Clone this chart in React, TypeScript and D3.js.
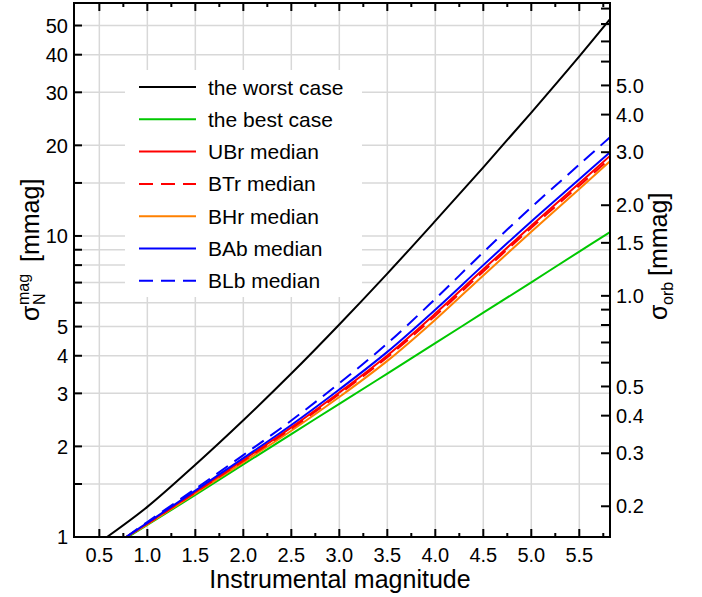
import React from "react";
import * as d3 from "d3";

// ---- data ----
const worstMag = [0.58, 1.0, 1.5, 2.0, 2.5, 3.0, 3.5, 4.0, 4.5, 5.0, 5.5, 5.82];
const worstCase = [1.0, 1.259, 1.738, 2.443, 3.491, 5.082, 7.499, 11.22, 16.9, 25.7, 39.5, 52.5];

const bestMag = [0.8, 1.0, 1.5, 2.0, 2.5, 3.0, 3.5, 4.0, 4.5, 5.0, 5.5, 5.82];
const bestCase = [1.0, 1.096, 1.38, 1.742, 2.198, 2.767, 3.491, 4.406, 5.559, 7.015, 8.872, 10.3];

const medianMag = [0.78, 1.0, 1.5, 2.0, 2.5, 3.0, 3.5, 4.0, 4.5, 5.0, 5.5, 5.82];
const ubrMedian = [1.0, 1.109, 1.413, 1.803, 2.312, 3.02, 4.009, 5.521, 7.745, 10.81, 14.96, 18.45];
const btrMedian = [1.0, 1.107, 1.406, 1.791, 2.291, 2.985, 3.954, 5.433, 7.621, 10.64, 14.69, 18.07];
const bhrMedian = [1.0, 1.102, 1.396, 1.77, 2.254, 2.917, 3.846, 5.272, 7.396, 10.33, 14.32, 17.7];
const babMedian = [1.0, 1.114, 1.426, 1.828, 2.355, 3.09, 4.12, 5.69, 8.0, 11.17, 15.42, 18.97];
const blbMedian = [1.0, 1.122, 1.445, 1.871, 2.438, 3.243, 4.395, 6.18, 8.83, 12.45, 17.26, 21.28];

const seriesNames = [
  "the worst case",
  "the best case",
  "UBr median",
  "BTr median",
  "BHr median",
  "BAb median",
  "BLb median",
];

const xMajorTicks = [0.5, 1.0, 1.5, 2.0, 2.5, 3.0, 3.5, 4.0, 4.5, 5.0, 5.5];
const xMinorTicks = [0.75, 1.25, 1.75, 2.25, 2.75, 3.25, 3.75, 4.25, 4.75, 5.25, 5.75];
const leftLabelTicks = [1, 2, 3, 4, 5, 10, 20, 30, 40, 50];
const leftMinorTicks = [1.5, 6, 7, 8, 9, 15];
const rightLabelTicks = [0.2, 0.3, 0.4, 0.5, 1.0, 1.5, 2.0, 3.0, 4.0, 5.0];
const rightMinorTicks = [0.6, 0.7, 0.8, 0.9, 6, 7, 8, 9];
const orbFactor = Math.sqrt(40);

// ---- layout ----
const W = 702;
const H = 597;
const L = 74;
const R = 610;
const T = 3;
const B = 537;
const FONT = "'Liberation Sans', Arial, Helvetica, sans-serif";

export default function App() {
  const x = d3.scaleLinear().domain([0.236, 5.82]).range([L, R]);
  const y = d3.scaleLog().domain([1, 59.4]).range([B, T]);
  const yR = d3.scaleLog().domain([1 / orbFactor, 59.4 / orbFactor]).range([B, T]);

  const mk = (ms: number[], vs: number[]) =>
    d3
      .line<number>()
      .x((_, i) => x(ms[i]))
      .y((v) => y(v))
      .curve(d3.curveCatmullRom.alpha(0.5))(vs) || "";

  const series = [
    { name: seriesNames[0], d: mk(worstMag, worstCase), color: "#000000", dash: "" },
    { name: seriesNames[1], d: mk(bestMag, bestCase), color: "#00c800", dash: "" },
    { name: seriesNames[2], d: mk(medianMag, ubrMedian), color: "#ff0000", dash: "" },
    { name: seriesNames[3], d: mk(medianMag, btrMedian), color: "#ff0000", dash: "14,8" },
    { name: seriesNames[4], d: mk(medianMag, bhrMedian), color: "#ff8000", dash: "" },
    { name: seriesNames[5], d: mk(medianMag, babMedian), color: "#0000ff", dash: "" },
    { name: seriesNames[6], d: mk(medianMag, blbMedian), color: "#0000ff", dash: "14,8" },
  ];
  const drawOrder = [0, 1, 4, 3, 2, 5, 6];

  const gridColor = "#d8d8d8";
  const hGrid = [...leftLabelTicks, ...leftMinorTicks];

  const legendY0 = 87;
  const legendDy = 32.3;

  return (
    <svg
      width={W}
      height={H}
      style={{ position: "absolute", left: 0, top: 0, background: "#fff" }}
      fontFamily={FONT}
    >
      <rect x={0} y={0} width={W} height={H} fill="#fff" />
      {/* grid */}
      {xMajorTicks.map((t) => (
        <line key={"gx" + t} x1={x(t)} x2={x(t)} y1={T} y2={B} stroke={gridColor} strokeWidth={1.5} />
      ))}
      {hGrid.map((t) => (
        <line key={"gy" + t} x1={L} x2={R} y1={y(t)} y2={y(t)} stroke={gridColor} strokeWidth={1.5} />
      ))}
      {/* legend background */}
      <rect x={125} y={70} width={237} height={227} fill="#fff" />

      {/* curves */}
      <g>
        {drawOrder.map((i) => (
          <path
            key={"s" + i}
            d={series[i].d}
            fill="none"
            stroke={series[i].color}
            strokeWidth={2}
            strokeDasharray={series[i].dash || undefined}
          />
        ))}
      </g>

      {/* legend */}
      {series.map((s, i) => (
        <g key={"lg" + i}>
          <line
            x1={139}
            x2={196}
            y1={legendY0 + i * legendDy}
            y2={legendY0 + i * legendDy}
            stroke={s.color}
            strokeWidth={2}
            strokeDasharray={s.dash || undefined}
          />
          <text x={208} y={legendY0 + i * legendDy} dy="0.36em" fontSize={21} fill="#000">
            {s.name}
          </text>
        </g>
      ))}

      {/* frame */}
      <rect x={L} y={T} width={R - L} height={B - T} fill="none" stroke="#000" strokeWidth={2} />

      {/* bottom & top ticks */}
      {xMajorTicks.map((t) => (
        <g key={"xt" + t}>
          <line x1={x(t)} x2={x(t)} y1={B} y2={B - 8} stroke="#000" strokeWidth={2} />
          <line x1={x(t)} x2={x(t)} y1={T} y2={T + 8} stroke="#000" strokeWidth={2} />
          <text x={x(t)} y={562} textAnchor="middle" fontSize={20}>
            {t.toFixed(1)}
          </text>
        </g>
      ))}
      {xMinorTicks.map((t) => (
        <g key={"xm" + t}>
          <line x1={x(t)} x2={x(t)} y1={B} y2={B - 4} stroke="#000" strokeWidth={2} />
          <line x1={x(t)} x2={x(t)} y1={T} y2={T + 4} stroke="#000" strokeWidth={2} />
        </g>
      ))}

      {/* left ticks */}
      {leftLabelTicks.map((t) => (
        <g key={"ly" + t}>
          <line x1={L} x2={L + 8} y1={y(t)} y2={y(t)} stroke="#000" strokeWidth={2} />
          <text x={68} y={y(t)} dy="0.36em" textAnchor="end" fontSize={20}>
            {String(t)}
          </text>
        </g>
      ))}
      {leftMinorTicks.map((t) => (
        <line key={"lm" + t} x1={L} x2={L + 8} y1={y(t)} y2={y(t)} stroke="#000" strokeWidth={2} />
      ))}

      {/* right ticks */}
      {rightLabelTicks.map((t) => (
        <g key={"ry" + t}>
          <line x1={R} x2={R - 9} y1={yR(t)} y2={yR(t)} stroke="#000" strokeWidth={2} />
          <text x={616} y={yR(t)} dy="0.36em" textAnchor="start" fontSize={20}>
            {t.toFixed(1)}
          </text>
        </g>
      ))}
      {rightMinorTicks.map((t) => (
        <line key={"rm" + t} x1={R} x2={R - 9} y1={yR(t)} y2={yR(t)} stroke="#000" strokeWidth={2} />
      ))}

      {/* axis titles */}
      <text x={340} y={588} textAnchor="middle" fontSize={25}>
        Instrumental magnitude
      </text>
      <g transform="translate(39,245) rotate(-90)">
        <text x={-76} y={0} fontSize={25}>
          σ
        </text>
        <text x={-60} y={-10} fontSize={16}>
          mag
        </text>
        <text x={-60} y={6} fontSize={16}>
          N
        </text>
        <text x={-17} y={0} fontSize={25}>
          [mmag]
        </text>
      </g>
      <g transform="translate(667,250) rotate(-90)">
        <text x={-70} y={0} fontSize={25}>
          σ
        </text>
        <text x={-55} y={6} fontSize={16}>
          orb
        </text>
        <text x={-26} y={0} fontSize={25}>
          [mmag]
        </text>
      </g>
    </svg>
  );
}
